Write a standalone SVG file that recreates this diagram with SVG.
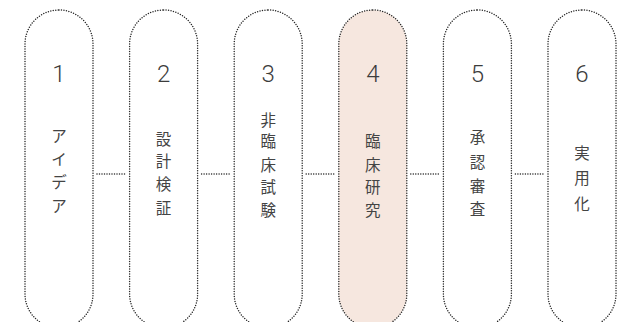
<svg xmlns="http://www.w3.org/2000/svg" width="631" height="322" viewBox="0 0 631 322">
<defs>
<style>
.pill{fill:#ffffff;stroke:#262626;stroke-width:1.5;stroke-dasharray:0 2.5;stroke-linecap:round}
.hl{fill:#f6e7df}
.num{font-family:Roboto,"Liberation Sans",sans-serif;font-weight:300;font-size:24px;fill:#3c3c3c;text-anchor:middle}
.jp{font-family:"Noto Sans CJK JP",sans-serif;font-weight:400;font-size:15.5px;fill:#444;text-anchor:middle}
.conn{stroke:#262626;stroke-width:1.5;stroke-dasharray:0 2.5;stroke-linecap:round;fill:none}
</style>
</defs>
<rect width="631" height="322" fill="#ffffff"/>
<g id="connectors">
<line class="conn" x1="97" y1="174" x2="126" y2="174"/>
<line class="conn" x1="201.6" y1="174" x2="230.6" y2="174"/>
<line class="conn" x1="306.2" y1="174" x2="335.2" y2="174"/>
<line class="conn" x1="410.8" y1="174" x2="439.8" y2="174"/>
<line class="conn" x1="515.4" y1="174" x2="544.4" y2="174"/>
</g>
<g id="node1">
<rect class="pill" x="25" y="10" width="68" height="318" rx="34"/>
<text class="num" x="59" y="82">1</text>
<text class="jp" x="59" y="141.5">ア</text>
<text class="jp" x="59" y="165">イ</text>
<text class="jp" x="59" y="188">デ</text>
<text class="jp" x="59" y="211.5">ア</text>
</g>
<g id="node2">
<rect class="pill" x="129.6" y="10" width="68" height="318" rx="34"/>
<text class="num" x="163.6" y="82">2</text>
<text class="jp" x="163.6" y="145">設</text>
<text class="jp" x="163.6" y="167">計</text>
<text class="jp" x="163.6" y="190">検</text>
<text class="jp" x="163.6" y="214">証</text>
</g>
<g id="node3">
<rect class="pill" x="234.2" y="10" width="68" height="318" rx="34"/>
<text class="num" x="268.2" y="82">3</text>
<text class="jp" x="268.2" y="125.5">非</text>
<text class="jp" x="268.2" y="147">臨</text>
<text class="jp" x="268.2" y="170.5">床</text>
<text class="jp" x="268.2" y="192.5">試</text>
<text class="jp" x="268.2" y="215.5">験</text>
</g>
<g id="node4">
<rect class="pill hl" x="338.8" y="10" width="68" height="318" rx="34"/>
<text class="num" x="372.8" y="82">4</text>
<text class="jp" x="372.8" y="147">臨</text>
<text class="jp" x="372.8" y="170.5">床</text>
<text class="jp" x="372.8" y="192.5">研</text>
<text class="jp" x="372.8" y="215.5">究</text>
</g>
<g id="node5">
<rect class="pill" x="443.4" y="10" width="68" height="318" rx="34"/>
<text class="num" x="477.4" y="82">5</text>
<text class="jp" x="477.4" y="143">承</text>
<text class="jp" x="477.4" y="168">認</text>
<text class="jp" x="477.4" y="191.5">審</text>
<text class="jp" x="477.4" y="215">査</text>
</g>
<g id="node6">
<rect class="pill" x="548" y="10" width="68" height="318" rx="34"/>
<text class="num" x="582" y="82">6</text>
<text class="jp" x="582" y="158.5">実</text>
<text class="jp" x="582" y="184">用</text>
<text class="jp" x="582" y="209.5">化</text>
</g>
</svg>
